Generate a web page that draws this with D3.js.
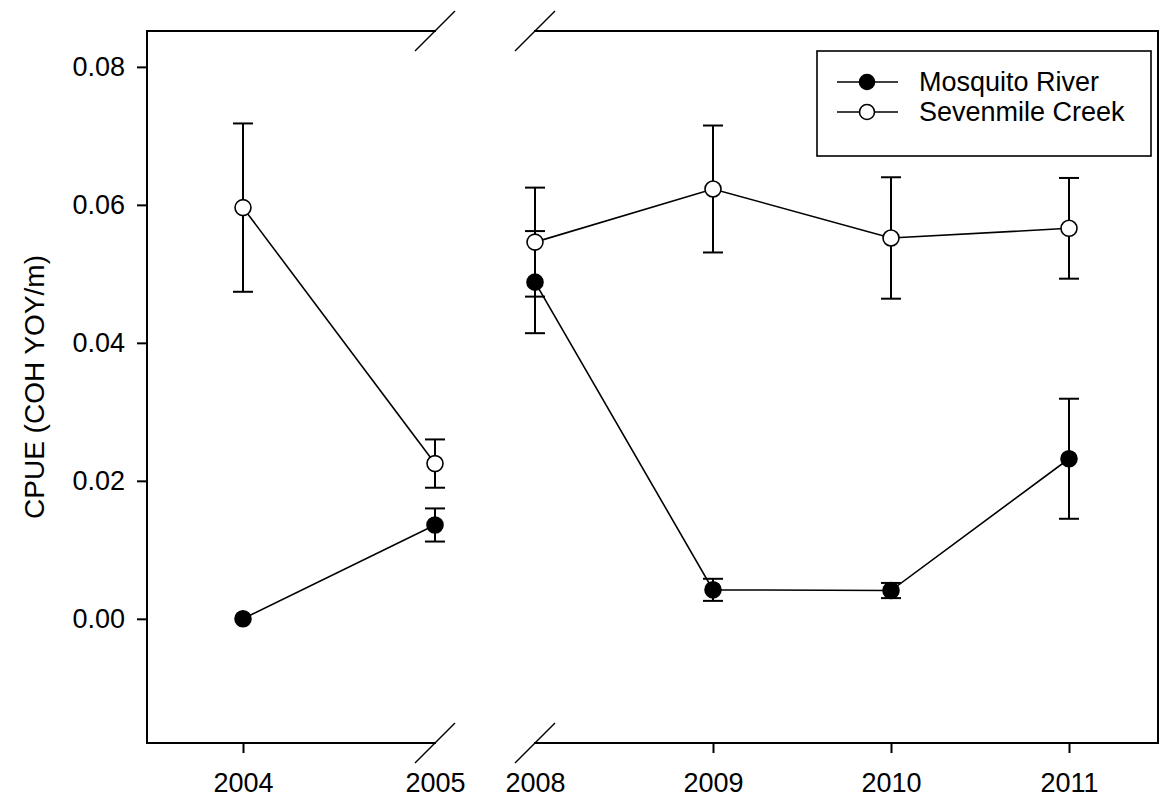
<!DOCTYPE html>
<html>
<head>
<meta charset="utf-8">
<script src="https://cdn.jsdelivr.net/npm/d3@7"></script>
<style>
  body { margin: 0; background: #fff; }
  text { font-family: "Liberation Sans", Arial, sans-serif; fill: #000; }
</style>
</head>
<body>
<div id="chart"></div>
<script>
// CPUE per year, two streams. Axis is broken between 2005 and 2008.
var years      = [2004, 2005, 2008, 2009, 2010, 2011];
var mosquito   = [0.0000, 0.0136, 0.0488, 0.0042, 0.0041, 0.0232];
var mosquitoSE = [null,   0.0024, 0.0074, 0.0016, 0.0011, 0.0087];
var sevenmile  = [0.0596, 0.0225, 0.0546, 0.0623, 0.0552, 0.0566];
var sevenSE    = [0.0122, 0.0035, 0.0079, 0.0092, 0.0088, 0.0073];
var yTicks     = [0.00, 0.02, 0.04, 0.06, 0.08];
var seriesNames = ["Mosquito River", "Sevenmile Creek"];

var width = 1161, height = 800;
// note: "top" is taken by window.top, so plot edges get their own names
var plotLeft = 147, plotRight = 1158, plotTop = 31, plotBottom = 743;
var breakL = 435, breakR = 535;

// piecewise scale: left chunk 2003.5-2005, right chunk 2008-2011.5
var x = d3.scaleLinear()
    .domain([2003.5, 2005, 2008, 2011.5])
    .range([plotLeft, breakL, breakR, plotRight]);

var y = d3.scaleLinear()
    .domain([-0.018, 0.0852])
    .range([plotBottom, plotTop]);

var svg = d3.select("#chart").append("svg")
    .attr("width", width)
    .attr("height", height);

// y axis
var yAxis = svg.append("g")
    .attr("transform", "translate(" + plotLeft + ",0)")
    .call(d3.axisLeft(y).tickValues(yTicks).tickSize(10).tickPadding(12)
      .tickFormat(d3.format(".2f")));
yAxis.select(".domain").remove();
yAxis.selectAll("line").attr("stroke", "#000").attr("stroke-width", 2);
yAxis.selectAll("text").style("font-size", "27px");

// x axis, ticks only where the axis is not broken
var xAxis = svg.append("g")
    .attr("transform", "translate(0," + plotBottom + ")")
    .call(d3.axisBottom(x).tickValues(years).tickSize(10).tickPadding(20)
      .tickFormat(d3.format("d")));
xAxis.select(".domain").remove();
xAxis.selectAll("line").attr("stroke", "#000").attr("stroke-width", 2)
    .filter(function(d) { return d === 2005 || d === 2008; }).remove();
xAxis.selectAll("text").style("font-size", "27px");

// frame with gaps at the break
var frame = [
  [plotLeft, plotTop, plotLeft, plotBottom],
  [plotRight, plotTop, plotRight, plotBottom],
  [plotLeft, plotBottom, breakL, plotBottom],
  [breakR, plotBottom, plotRight, plotBottom],
  [plotLeft, plotTop, breakL, plotTop],
  [breakR, plotTop, plotRight, plotTop]
];
svg.append("g").selectAll("line")
  .data(frame)
  .enter().append("line")
    .attr("x1", function(d) { return d[0]; })
    .attr("y1", function(d) { return d[1]; })
    .attr("x2", function(d) { return d[2]; })
    .attr("y2", function(d) { return d[3]; })
    .attr("stroke", "#000")
    .attr("stroke-width", 2)
    .attr("stroke-linecap", "square");

// break slashes
var slashes = [];
[breakL, breakR].forEach(function(bx) {
  [plotTop, plotBottom].forEach(function(by) { slashes.push([bx, by]); });
});
svg.append("g").selectAll("line")
  .data(slashes)
  .enter().append("line")
    .attr("x1", function(d) { return d[0] - 20; })
    .attr("y1", function(d) { return d[1] + 20; })
    .attr("x2", function(d) { return d[0] + 20; })
    .attr("y2", function(d) { return d[1] - 20; })
    .attr("stroke", "#000")
    .attr("stroke-width", 1.5);

// y label
svg.append("text")
    .attr("transform", "translate(44," + ((plotTop + plotBottom) / 2) + ") rotate(-90)")
    .attr("text-anchor", "middle")
    .style("font-size", "28px")
    .text("CPUE (COH YOY/m)");

function makeRows(vals, se) {
  return years.map(function(yr, i) { return {year: yr, v: vals[i], se: se[i]}; });
}
var series = [
  {name: seriesNames[0], rows: makeRows(mosquito, mosquitoSE), fill: "#000"},
  {name: seriesNames[1], rows: makeRows(sevenmile, sevenSE), fill: "#fff"}
];

var line = d3.line()
    .x(function(d) { return x(d.year); })
    .y(function(d) { return y(d.v); });

var capHalf = 10;
var plot = svg.append("g");

// error bars first so the markers sit on top
series.forEach(function(s) {
  var eb = plot.append("g").selectAll("g")
    .data(s.rows.filter(function(d) { return d.se != null; }))
    .enter().append("g")
      .attr("stroke", "#000")
      .attr("stroke-width", 2);
  eb.append("line")
    .attr("x1", function(d) { return x(d.year); })
    .attr("x2", function(d) { return x(d.year); })
    .attr("y1", function(d) { return y(d.v - d.se); })
    .attr("y2", function(d) { return y(d.v + d.se); });
  [-1, 1].forEach(function(sign) {
    eb.append("line")
      .attr("x1", function(d) { return x(d.year) - capHalf; })
      .attr("x2", function(d) { return x(d.year) + capHalf; })
      .attr("y1", function(d) { return y(d.v + sign * d.se); })
      .attr("y2", function(d) { return y(d.v + sign * d.se); });
  });
});

// lines, split at the break
series.forEach(function(s) {
  var parts = [s.rows.filter(function(d) { return d.year <= 2005; }),
               s.rows.filter(function(d) { return d.year >= 2008; })];
  plot.selectAll(null)
    .data(parts)
    .enter().append("path")
      .attr("d", line)
      .attr("fill", "none")
      .attr("stroke", "#000")
      .attr("stroke-width", 1.6);
});

series.forEach(function(s) {
  plot.append("g").selectAll("circle")
    .data(s.rows)
    .enter().append("circle")
      .attr("cx", function(d) { return x(d.year); })
      .attr("cy", function(d) { return y(d.v); })
      .attr("r", 8)
      .attr("fill", s.fill)
      .attr("stroke", "#000")
      .attr("stroke-width", 1.6);
});

// legend
var legend = svg.append("g").attr("transform", "translate(817,51)");
legend.append("rect")
    .attr("width", 334)
    .attr("height", 105)
    .attr("fill", "#fff")
    .attr("stroke", "#000")
    .attr("stroke-width", 1.6);
var item = legend.selectAll("g.item")
  .data(series)
  .enter().append("g")
    .attr("class", "item")
    .attr("transform", function(d, i) { return "translate(0," + (31 + i * 30) + ")"; });
item.append("line")
    .attr("x1", 20).attr("x2", 81)
    .attr("stroke", "#000").attr("stroke-width", 1.6);
item.append("circle")
    .attr("cx", 50).attr("r", 7.5)
    .attr("fill", function(d) { return d.fill; })
    .attr("stroke", "#000").attr("stroke-width", 1.6);
item.append("text")
    .attr("x", 102)
    .attr("dy", "0.35em")
    .style("font-size", "27px")
    .text(function(d) { return d.name; });
</script>
</body>
</html>
